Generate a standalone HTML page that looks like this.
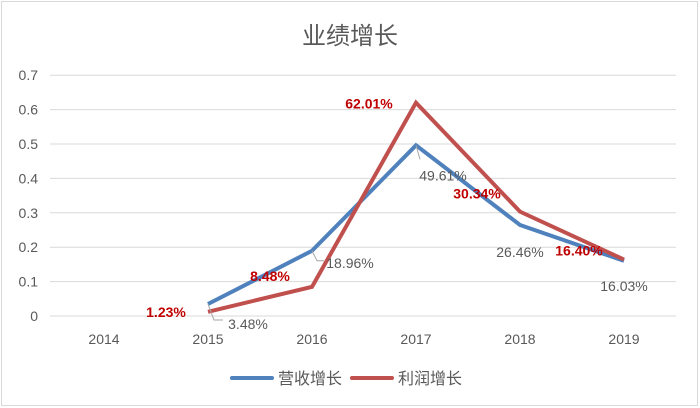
<!DOCTYPE html>
<html><head><meta charset="utf-8"><style>
html,body{margin:0;padding:0;background:#fff}
svg{display:block}
text{font-family:"Liberation Sans","Noto Sans CJK SC",sans-serif}
</style></head><body>
<svg id="chart" width="700" height="408" viewBox="0 0 700 408">
<rect x="1.5" y="1.5" width="696" height="404" fill="#fff" stroke="#d9d9d9"/>
<text x="350" y="44" text-anchor="middle" font-size="24" fill="#595959">业绩增长</text>
<g id="grid"></g><g id="ylabels"></g><g id="xlabels"></g><g id="series"></g><g id="labels"></g>
<g>
<line x1="232" y1="378" x2="272" y2="378" stroke="#4f81bd" stroke-width="4" stroke-linecap="round"/>
<text x="278" y="384" font-size="16" fill="#595959">营收增长</text>
<line x1="352" y1="378" x2="392" y2="378" stroke="#c0504d" stroke-width="4" stroke-linecap="round"/>
<text x="398" y="384" font-size="16" fill="#595959">利润增长</text>
</g>
</svg>
<script>
const categories=["2014","2015","2016","2017","2018","2019"];
const revenue=[null,0.0348,0.1896,0.4961,0.2646,0.1603];
const profit=[null,0.0123,0.0848,0.6201,0.3034,0.1640];
const yTicks=[0,0.1,0.2,0.3,0.4,0.5,0.6,0.7];
const NS="http://www.w3.org/2000/svg";
function x(i){return 104+104*i;}
function y(v){return 316-v*344;}
function mk(tag,attrs,parent){const e=document.createElementNS(NS,tag);for(const k in attrs)e.setAttribute(k,attrs[k]);parent.appendChild(e);return e;}
const grid=document.getElementById('grid'),yl=document.getElementById('ylabels'),xl=document.getElementById('xlabels');
yTicks.forEach(t=>{
 const l=mk('line',{x1:50,x2:676,y1:y(t),y2:y(t),stroke:'#d9d9d9','stroke-width':1},grid);
 
 
 const tx=mk('text',{x:38,y:y(t)+5,'text-anchor':'end','font-size':14,fill:'#595959'},yl);
 tx.textContent=String(t);
 
 
});
categories.forEach((c,i)=>{
 const tx=mk('text',{x:x(i),y:344,'text-anchor':'middle','font-size':14,fill:'#595959'},xl);
 tx.textContent=c;
 
 
});
const sg=document.getElementById('series');
function line(data,color,name){
 const pts=data.map((v,i)=>v==null?null:x(i)+','+y(v)).filter(p=>p);
 const p=mk('polyline',{points:pts.join(' '),fill:'none',stroke:color,'stroke-width':4,'stroke-linejoin':'miter'},sg);
 
 
}
line(revenue,'#4f81bd','revenue-line');
line(profit,'#c0504d','profit-line');
const lg=document.getElementById('labels');
const revOff=[null,[40,25],[38,17],[27,35],[0,32],[0,30]];
const profOff=[null,[-42,5],[-42,-6],[-47,6],[-43,-13],[-45,-4]];
function lab(v,i,dx,dy,bold,color,name){
 const tx=mk('text',{x:x(i)+dx,y:y(v)+dy,'text-anchor':'middle','font-size':14,fill:color,'font-weight':bold?'bold':'normal'},lg);
 tx.textContent=(v*100).toFixed(2)+'%';
 
 
}
revenue.forEach((v,i)=>{if(v!=null)lab(v,i,revOff[i][0],revOff[i][1],false,'#595959','revenue-data-label');});
profit.forEach((v,i)=>{if(v!=null)lab(v,i,profOff[i][0],profOff[i][1],true,'#c00000','profit-data-label');});
[[1,[[0,0],[6,16],[15,16]]],[2,[[0,0],[5,10],[12,10]]],[3,[[0,0],[4,14]]]].forEach(([i,seg])=>{
 const pts=seg.map(s=>(x(i)+s[0])+','+(y(revenue[i])+s[1])).join(' ');
 const p=mk('polyline',{points:pts,fill:'none',stroke:'#a6a6a6','stroke-width':1},lg);
 
 
});
</script>
</body></html>
